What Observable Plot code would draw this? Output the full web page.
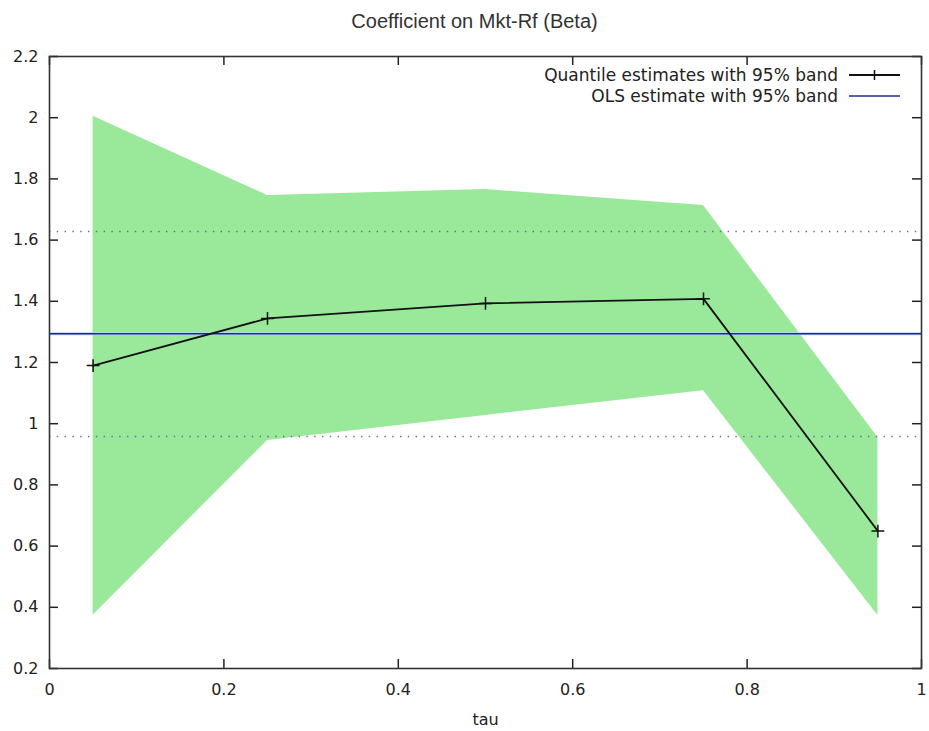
<!DOCTYPE html>
<html>
<head>
<meta charset="utf-8">
<script src="https://cdn.jsdelivr.net/npm/d3@7"></script>
<script src="https://cdn.jsdelivr.net/npm/@observablehq/plot@0.6"></script>
<style>
  html, body { margin: 0; padding: 0; background: #fff; }
  #chart svg { display: block; }
</style>
</head>
<body>
<div id="chart"></div>
<script>
// ---- data ----
const tau = [0.05, 0.25, 0.5, 0.75, 0.95];
const quantile = [1.190, 1.344, 1.393, 1.408, 0.649];
const bandUpper = [2.005, 1.746, 1.765, 1.713, 0.955];
const bandLower = [0.374, 0.945, 1.027, 1.108, 0.373];
const olsEstimate = 1.294;
const olsBand = [0.958, 1.628];
const xTicks = [0, 0.2, 0.4, 0.6, 0.8, 1];
const yTicks = [0.2, 0.4, 0.6, 0.8, 1, 1.2, 1.4, 1.6, 1.8, 2, 2.2];
const title = "Coefficient on Mkt-Rf (Beta)";
const xLabel = "tau";
const legendLabels = ["Quantile estimates with 95% band", "OLS estimate with 95% band"];

const rows = tau.map((t, i) => ({tau: t, q: quantile[i], lo: bandLower[i], hi: bandUpper[i]}));

const W = 929, H = 731;
const M = {top: 56, right: 8, bottom: 63, left: 49};
const fw = W - M.left - M.right, fh = H - M.top - M.bottom;
const fmt = d => String(+d.toFixed(1));
const tickLen = 9;
const tickFont = "DejaVu Sans, Verdana, sans-serif";

const plot = Plot.plot({
  width: W, height: H,
  marginTop: M.top, marginRight: M.right, marginBottom: M.bottom, marginLeft: M.left,
  style: {fontFamily: tickFont, fontSize: "16px", color: "#222", background: "#fff"},
  x: {domain: [0, 1]},
  y: {domain: [0.2, 2.2]},
  marks: [
    Plot.areaY(rows, {x: "tau", y1: "lo", y2: "hi", fill: "#9ae99a"}),
    Plot.ruleY(olsBand, {stroke: "#5b6f9a", strokeWidth: 1.4, strokeDasharray: "1.4,6.4"}),
    Plot.ruleY([olsEstimate], {stroke: "#b4d4f2", strokeWidth: 3}),
    Plot.ruleY([olsEstimate], {stroke: "#1d2b96", strokeWidth: 1.6}),
    Plot.line(rows, {x: "tau", y: "q", stroke: "#111", strokeWidth: 1.8}),
    Plot.dot(rows, {x: "tau", y: "q", symbol: "plus", stroke: "#111", r: 4.2, strokeWidth: 1.5}),
    // inward ticks on all four sides
    Plot.tickY(yTicks, {y: d => d, stroke: "#222", strokeWidth: 1.5, insetRight: fw - tickLen}),
    Plot.tickY(yTicks, {y: d => d, stroke: "#222", strokeWidth: 1.5, insetLeft: fw - tickLen}),
    Plot.tickX(xTicks, {x: d => d, stroke: "#222", strokeWidth: 1.5, insetTop: fh - tickLen}),
    Plot.tickX(xTicks, {x: d => d, stroke: "#222", strokeWidth: 1.5, insetBottom: fh - tickLen}),
    Plot.frame({stroke: "#333", strokeWidth: 1.6}),
    Plot.axisY(yTicks, {anchor: "left", tickSize: 0, tickPadding: 11, tickFormat: fmt, fontSize: 16, fill: "#222", label: null}),
    Plot.axisX(xTicks, {anchor: "bottom", tickSize: 0, tickPadding: 15, tickFormat: fmt, fontSize: 16, fill: "#222", label: null}),
    Plot.text([title], {frameAnchor: "top", lineAnchor: "middle", dy: -35, dx: -11, fontSize: 20, fontFamily: "Liberation Sans, Arial, sans-serif", fill: "#333"}),
    Plot.text([xLabel], {frameAnchor: "bottom", lineAnchor: "middle", dy: 51, fontSize: 16, fill: "#222"})
  ]
});

document.getElementById("chart").appendChild(plot);

// legend (top-right inside the frame)
const svg = d3.select(plot);
const lg = svg.append("g").attr("font-family", tickFont).attr("font-size", 17).attr("fill", "#222");
const textRight = W - M.right - 83, lineX1 = W - M.right - 72, lineX2 = W - M.right - 21;
const rowY = [M.top + 19, M.top + 40];
const legendStroke = ["#111", "#1d2b96"];
legendLabels.forEach((lab, i) => {
  lg.append("text").attr("x", textRight).attr("y", rowY[i]).attr("dy", "0.35em").attr("text-anchor", "end").text(lab);
  lg.append("line").attr("x1", lineX1).attr("x2", lineX2).attr("y1", rowY[i]).attr("y2", rowY[i])
    .attr("stroke", legendStroke[i]).attr("stroke-width", i === 0 ? 1.8 : 1.6);
});
const cx = (lineX1 + lineX2) / 2;
lg.append("line").attr("x1", cx).attr("x2", cx).attr("y1", rowY[0] - 5).attr("y2", rowY[0] + 5).attr("stroke", "#111").attr("stroke-width", 1.5);
</script>
</body>
</html>
